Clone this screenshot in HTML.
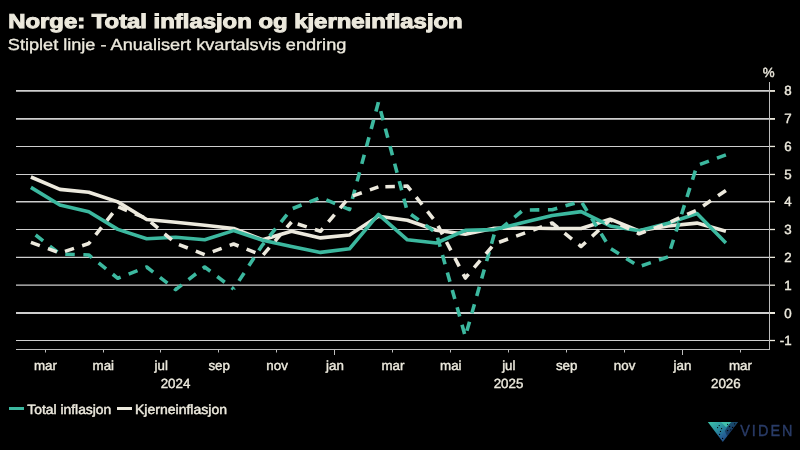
<!DOCTYPE html>
<html><head><meta charset="utf-8"><title>Norge: Total inflasjon og kjerneinflasjon</title>
<style>
html,body{margin:0;padding:0;background:#000;}
body{width:800px;height:450px;overflow:hidden;position:relative;font-family:"Liberation Sans",sans-serif;}
svg{position:absolute;left:0;top:0;}
text{font-family:"Liberation Sans",sans-serif;fill:#ece9dd;text-rendering:geometricPrecision;}
svg{will-change:transform;}
.ax{font-size:13.33px;stroke:#ece9dd;stroke-width:0.4px;}
.ttl{font-size:20px;font-weight:bold;stroke:#ece9dd;stroke-width:1px;}
.sub{font-size:16px;stroke:#ece9dd;stroke-width:0.35px;}
.lg{font-size:13.33px;stroke:#ece9dd;stroke-width:0.45px;}
.logo{font-size:16px;fill:#2a3c68;stroke:#2a3c68;stroke-width:0.4px;letter-spacing:2.3px;}
</style></head><body>
<svg width="800" height="450" viewBox="0 0 800 450">
<defs>
<linearGradient id="lg1" x1="0" y1="0" x2="1" y2="1">
<stop offset="0" stop-color="#3fc5aa"/><stop offset="0.32" stop-color="#2b95a0"/><stop offset="0.6" stop-color="#245f96"/><stop offset="1" stop-color="#1a2c5c"/>
</linearGradient>
</defs>
<rect width="800" height="450" fill="#000"/>
<text x="8.2" y="27.5" class="ttl" textLength="454.5" lengthAdjust="spacingAndGlyphs">Norge: Total inflasjon og kjerneinflasjon</text>
<text x="7.8" y="49.5" class="sub" textLength="338.5" lengthAdjust="spacingAndGlyphs">Stiplet linje - Anualisert kvartalsvis endring</text>
<line x1="16" x2="769" y1="340.50" y2="340.50" stroke="#cecece" stroke-width="1.0"/>
<line x1="770" x2="775" y1="340.50" y2="340.50" stroke="#ece9dd" stroke-width="1.3"/>
<line x1="16" x2="769" y1="313.00" y2="313.00" stroke="#cecece" stroke-width="2.0"/>
<line x1="770" x2="775" y1="313.00" y2="313.00" stroke="#ece9dd" stroke-width="2.0"/>
<line x1="16" x2="769" y1="285.20" y2="285.20" stroke="#cecece" stroke-width="1.2"/>
<line x1="770" x2="775" y1="285.20" y2="285.20" stroke="#ece9dd" stroke-width="1.3"/>
<line x1="16" x2="769" y1="257.35" y2="257.35" stroke="#cecece" stroke-width="1.2"/>
<line x1="770" x2="775" y1="257.35" y2="257.35" stroke="#ece9dd" stroke-width="1.3"/>
<line x1="16" x2="769" y1="229.50" y2="229.50" stroke="#cecece" stroke-width="1.1"/>
<line x1="770" x2="775" y1="229.50" y2="229.50" stroke="#ece9dd" stroke-width="1.3"/>
<line x1="16" x2="769" y1="201.70" y2="201.70" stroke="#cecece" stroke-width="1.4"/>
<line x1="770" x2="775" y1="201.70" y2="201.70" stroke="#ece9dd" stroke-width="1.4"/>
<line x1="16" x2="769" y1="174.45" y2="174.45" stroke="#cecece" stroke-width="1.1"/>
<line x1="770" x2="775" y1="174.45" y2="174.45" stroke="#ece9dd" stroke-width="1.3"/>
<line x1="16" x2="769" y1="146.45" y2="146.45" stroke="#cecece" stroke-width="1.1"/>
<line x1="770" x2="775" y1="146.45" y2="146.45" stroke="#ece9dd" stroke-width="1.3"/>
<line x1="16" x2="769" y1="118.90" y2="118.90" stroke="#cecece" stroke-width="1.8"/>
<line x1="770" x2="775" y1="118.90" y2="118.90" stroke="#ece9dd" stroke-width="1.8"/>
<line x1="16" x2="769" y1="90.95" y2="90.95" stroke="#cecece" stroke-width="1.8"/>
<line x1="770" x2="775" y1="90.95" y2="90.95" stroke="#ece9dd" stroke-width="1.8"/>
<line x1="769.5" x2="769.5" y1="82" y2="350" stroke="#bdbdbd" stroke-width="1"/>
<line x1="16" x2="770" y1="349.5" y2="349.5" stroke="#bdbdbd" stroke-width="1"/>
<line x1="45.5" x2="45.5" y1="350" y2="352.5" stroke="#bdbdbd" stroke-width="1"/>
<line x1="103.5" x2="103.5" y1="350" y2="352.5" stroke="#bdbdbd" stroke-width="1"/>
<line x1="160.5" x2="160.5" y1="350" y2="352.5" stroke="#bdbdbd" stroke-width="1"/>
<line x1="218.5" x2="218.5" y1="350" y2="352.5" stroke="#bdbdbd" stroke-width="1"/>
<line x1="276.5" x2="276.5" y1="350" y2="352.5" stroke="#bdbdbd" stroke-width="1"/>
<line x1="334.5" x2="334.5" y1="350" y2="355.0" stroke="#bdbdbd" stroke-width="1"/>
<line x1="392.5" x2="392.5" y1="350" y2="352.5" stroke="#bdbdbd" stroke-width="1"/>
<line x1="450.5" x2="450.5" y1="350" y2="352.5" stroke="#bdbdbd" stroke-width="1"/>
<line x1="508.5" x2="508.5" y1="350" y2="352.5" stroke="#bdbdbd" stroke-width="1"/>
<line x1="566.5" x2="566.5" y1="350" y2="352.5" stroke="#bdbdbd" stroke-width="1"/>
<line x1="624.5" x2="624.5" y1="350" y2="352.5" stroke="#bdbdbd" stroke-width="1"/>
<line x1="682.5" x2="682.5" y1="350" y2="355.0" stroke="#bdbdbd" stroke-width="1"/>
<line x1="740.5" x2="740.5" y1="350" y2="352.5" stroke="#bdbdbd" stroke-width="1"/>
<path d="M30.9,177.0 L59.9,189.4 L88.8,192.2 L117.8,201.9 L146.7,219.5 L175.7,222.3 L204.7,225.3 L233.6,228.5 L262.6,239.8 L291.5,231.3 L320.5,237.9 L349.5,235.0 L378.4,216.3 L407.4,220.2 L436.3,230.3 L465.3,234.2 L494.3,228.3 L523.2,228.0 L552.2,228.5 L581.1,228.5 L610.1,219.2 L639.1,230.8 L668.0,226.0 L697.0,223.1 L725.9,231.3" fill="none" stroke="#ece9dd" stroke-width="3.6" stroke-linejoin="round"/>
<path d="M30.9,187.4 L59.9,205.0 L88.8,211.8 L117.8,229.4 L146.7,238.8 L175.7,237.2 L204.7,239.7 L233.6,230.6 L262.6,240.2 L291.5,246.6 L320.5,252.4 L349.5,248.8 L378.4,214.4 L407.4,239.8 L436.3,243.0 L465.3,230.3 L494.3,229.6 L523.2,222.5 L552.2,215.5 L581.1,211.6 L610.1,225.9 L639.1,230.8 L668.0,223.3 L697.0,213.5 L725.9,243.0" fill="none" stroke="#3cb89f" stroke-width="3.6" stroke-linejoin="round"/>
<path d="M30.9,231.3 L59.9,254.0 L88.8,255.0 L117.8,278.3 L146.7,267.0 L175.7,289.6 L204.7,267.0 L233.6,289.0" fill="none" stroke="#3cb89f" stroke-width="3.6" stroke-dasharray="9.5 8.6" stroke-linejoin="round" stroke-dashoffset="-6"/>
<path d="M378.4,102.3 L349.5,209.6 L320.5,197.5 L291.5,209.0 L262.6,244.8 L233.6,289.0" fill="none" stroke="#3cb89f" stroke-width="3.6" stroke-dasharray="9.5 8.6" stroke-linejoin="round" stroke-dashoffset="0"/>
<path d="M725.9,154.9 L697.0,165.5 L668.0,256.9 L639.1,266.6 L610.1,248.2 L581.1,201.3 L552.2,209.7 L523.2,210.0 L494.3,234.0 L465.3,336.5 L436.3,233.0 L407.4,211.8 L378.4,102.3" fill="none" stroke="#3cb89f" stroke-width="3.6" stroke-dasharray="9.5 8.6" stroke-linejoin="round" stroke-dashoffset="0"/>
<path d="M30.9,242.4 L59.9,253.0 L88.8,243.5 L117.8,206.7 L146.7,218.5 L175.7,243.3 L204.7,254.6 L233.6,244.0 L262.6,255.5 L291.5,222.0" fill="none" stroke="#ece9dd" stroke-width="3.6" stroke-dasharray="9.5 8.6" stroke-linejoin="round" stroke-dashoffset="0"/>
<path d="M291.5,222.0 L320.5,231.3 L349.5,197.0 L378.4,186.9" fill="none" stroke="#ece9dd" stroke-width="3.6" stroke-dasharray="9.5 8.6" stroke-linejoin="round" stroke-dashoffset="11.6"/>
<path d="M725.9,190.4 L697.0,210.0 L668.0,223.1 L639.1,233.8 L610.1,219.8 L581.1,246.5 L552.2,223.0 L523.2,233.6 L494.3,243.9 L465.3,278.0 L436.3,222.5 L407.4,186.1 L378.4,186.9" fill="none" stroke="#ece9dd" stroke-width="3.6" stroke-dasharray="9.5 8.6" stroke-linejoin="round" stroke-dashoffset="0"/>
<text x="45.4" y="369.7" text-anchor="middle" class="ax">mar</text>
<text x="103.3" y="369.7" text-anchor="middle" class="ax">mai</text>
<text x="161.2" y="369.7" text-anchor="middle" class="ax">jul</text>
<text x="219.2" y="369.7" text-anchor="middle" class="ax">sep</text>
<text x="277.1" y="369.7" text-anchor="middle" class="ax">nov</text>
<text x="335.0" y="369.7" text-anchor="middle" class="ax">jan</text>
<text x="392.9" y="369.7" text-anchor="middle" class="ax">mar</text>
<text x="450.8" y="369.7" text-anchor="middle" class="ax">mai</text>
<text x="508.8" y="369.7" text-anchor="middle" class="ax">jul</text>
<text x="566.7" y="369.7" text-anchor="middle" class="ax">sep</text>
<text x="624.6" y="369.7" text-anchor="middle" class="ax">nov</text>
<text x="682.5" y="369.7" text-anchor="middle" class="ax">jan</text>
<text x="740.4" y="369.7" text-anchor="middle" class="ax">mar</text>
<text x="175.5" y="387.7" text-anchor="middle" class="ax">2024</text>
<text x="508.5" y="387.7" text-anchor="middle" class="ax">2025</text>
<text x="725.8" y="387.7" text-anchor="middle" class="ax">2026</text>
<text x="791.7" y="345.3" text-anchor="end" class="ax">-1</text>
<text x="791.7" y="317.5" text-anchor="end" class="ax">0</text>
<text x="791.7" y="289.7" text-anchor="end" class="ax">1</text>
<text x="791.7" y="262.0" text-anchor="end" class="ax">2</text>
<text x="791.7" y="234.2" text-anchor="end" class="ax">3</text>
<text x="791.7" y="206.4" text-anchor="end" class="ax">4</text>
<text x="791.7" y="178.6" text-anchor="end" class="ax">5</text>
<text x="791.7" y="150.8" text-anchor="end" class="ax">6</text>
<text x="791.7" y="123.1" text-anchor="end" class="ax">7</text>
<text x="791.7" y="95.3" text-anchor="end" class="ax">8</text>
<text x="768.7" y="76.8" text-anchor="middle" class="ax">%</text>
<rect x="9" y="407" width="15" height="3" fill="#3cb89f"/>
<text x="27.3" y="413.7" class="lg" textLength="84" lengthAdjust="spacingAndGlyphs">Total inflasjon</text>
<rect x="117" y="407" width="15" height="3" fill="#ece9dd"/>
<text x="135" y="413.7" class="lg" textLength="92" lengthAdjust="spacingAndGlyphs">Kjerneinflasjon</text>
<g>
<polygon points="707.8,422 738,422 722.8,442" fill="url(#lg1)"/>
<polygon points="730.5,422 738,422 727.2,436.3 724.8,431" fill="#0c1a3c" opacity="0.5"/>
<polygon points="721,422 731.3,422 726,427.2" fill="#45c4ad" opacity="0.9"/>
<g fill="#000">
<circle cx="719.2" cy="425.6" r="0.6"/><circle cx="717.6" cy="427.6" r="0.6"/><circle cx="721.6" cy="428.6" r="0.6"/>
<circle cx="720.5" cy="431.4" r="0.6"/><circle cx="719.6" cy="434.3" r="0.6"/><circle cx="722.6" cy="438.4" r="0.6"/>
<circle cx="727.6" cy="424.3" r="0.6"/><circle cx="729.6" cy="426.6" r="0.7"/><circle cx="727.6" cy="430.6" r="0.7"/>
<circle cx="732.6" cy="427.4" r="0.7"/><circle cx="734.6" cy="423.8" r="0.6"/><circle cx="730.8" cy="429.8" r="0.6"/>
</g>
</g>
<text x="740.2" y="436.2" class="logo" textLength="54.4" lengthAdjust="spacingAndGlyphs">VIDEN</text>
</svg>
</body></html>
